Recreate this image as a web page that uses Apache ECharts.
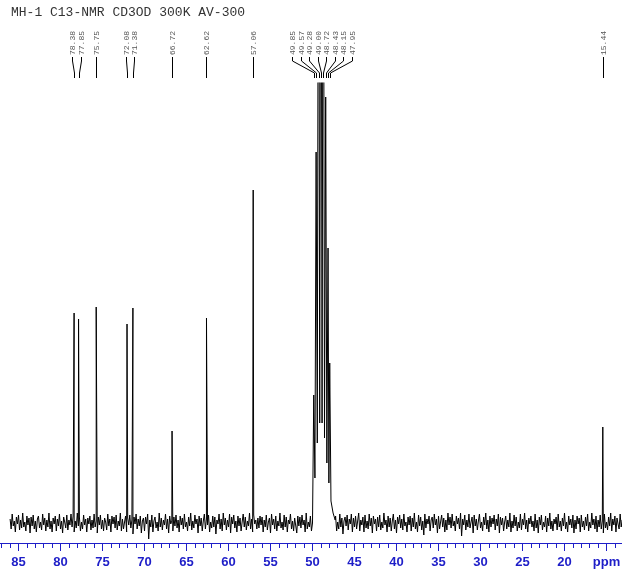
<!DOCTYPE html>
<html>
<head>
<meta charset="utf-8">
<script src="https://cdn.jsdelivr.net/npm/echarts@6.0.0/dist/echarts.min.js"></script>
<style>
html, body { margin: 0; padding: 0; background: #fff; }
#spectrum { width: 622px; height: 581px; }
</style>
</head>
<body>
<div id="spectrum"></div>
<script>
const titleText = 'MH-1 C13-NMR CD3OD 300K AV-300';

// picked peaks (ppm) and their heights above the baseline
const peakPpm = [78.38, 77.85, 75.75, 72.08, 71.38, 66.72, 62.62, 57.06,
  49.85, 49.57, 49.28, 49.00, 48.72, 48.43, 48.15, 47.95, 15.44];
const peakHeight = [210, 204, 216, 199, 215, 92, 205, 333,
  128, 371, 800, 900, 800, 426, 275, 160, 96];

// broad solvent envelope under the CD3OD multiplet
const humpPpm = [50.0, 49.71, 49.43, 49.14, 48.86, 48.57, 48.29, 48.05, 47.8, 47.55, 47.3];
const humpHeight = [0, 45, 80, 100, 100, 85, 60, 40, 22, 10, 3];

// baseline noise, one value every 0.125 ppm from 86 ppm down
const noiseStart = 86;
const noiseStep = 0.125;
const noise = [
  4, -6, 9, -3, 2, -9, 6, -1, 8, -7, 3, -5, 10, -4, 1, -8, 7, -2, 5, -10,
  6, -3, 8, -6, 2, -9, 4, 7, -5, 1, -7, 9, -2, 5, -8, 3, -4, 10, -6, 2,
  -9, 5, -1, 7, -8, 4, -3, 9, -6, 2, -10, 6, 1, -5, 8, -7, 3, -2, 9, -4,
  7, -9, 2, -5, 10, -3, 6, -8, 1, -6, 8, -2, 4, -9, 5, -1, 7, -7, 3, -5,
  9, -4, 2, -10, 6, -2, 8, -6, 3, -8, 5, 1, -7, 9, -3, 4, -9, 7, -1, 6,
  -5, 8, -7, 2, -3, 10, -8, 4, -6, 1, 7, -9, 5, -2, 8, -5, 3, -11, 6, -1,
  9, -6, 4, -3, 7, -10, 2, 5, -8, 6, -1, 9, -16, 3, -4, 8, -9, 2, 6, -5,
  1, -8, 10, -4, 5, -7, 3, -2, 9, -6, 4, -10, 7, -1, 2, -8, 6, -3, 8, -5,
  3, -9, 7, -2, 5, -6, 9, -4, 1, -8, 6, -3, 10, -7, 2, -5, 8, -1, 4, -10,
  7, -3, 5, -8, 2, 9, -6, 4, -2, 8, -9, 1, -5, 7, -4, 6, -11, 3, -1, 9,
  -6, 4, -8, 10, -2, 5, -7, 3, -4, 9, -10, 6, -1, 8, -5, 2, -9, 7, -3, 5,
  -8, 1, 9, -4, 6, -7, 2, -3, 10, -6, 4, -9, 8, -1, 3, -6, 5, -5, 7, -2,
  6, -9, 3, -4, 8, -7, 1, 5, -10, 9, -2, 4, -6, 7, -8, 2, -3, 10, -5, 1,
  -7, 8, -4, 6, -9, 3, -1, 9, -6, 2, -8, 5, 4, -10, 7, -3, 6, -5, 8, -2,
  3, -9, 10, -6, 1, -4, 7, -8, 5, -2, 9, -7, 2, -5, 8, -3, 4, -10, 6, -1,
  8, -5, 3, -9, 6, -2, 10, -7, 4, -3, 7, -8, 1, -6, 9, -4, 5, -11, 2, 6,
  -3, 8, -7, 4, -1, 9, -9, 5, -4, 7, -6, 2, 10, -8, 3, -2, 6, -9, 8, -5,
  2, -6, 9, -3, 5, -10, 7, -1, 4, -8, 6, -4, 8, -7, 1, -5, 10, -2, 3, -9,
  7, -4, 5, -8, 2, 9, -6, 3, -10, 6, -1, 8, -5, 4, -7, 9, -3, 1, -9, 6,
  -2, 7, -8, 5, -4, 10, -6, 1, -9, 8, -3, 6, -7, 2, -12, 9, -5, 4, -1, 7,
  -8, 3, 6, -5, 9, -2, 4, -10, 7, -6, 1, 8, -4, 5, -9, 3, -7, 10, -2, 6,
  -5, 9, -3, 2, -8, 7, -1, 5, -6, 10, -13, 4, -2, 8, -7, 3, -4, 9, -5, 1,
  6, -10, 8, -3, 4, -7, 2, 9, -5, 1, -8, 6, -2, 10, -6, 3, -9, 7, -4, 5,
  -1, 8, -7, 4, -3, 9, -10, 6, -2, 5, -8, 1, 7, -6, 3, -4, 10, -9, 2, -5,
  8, -3, 6, -8, 1, -5, 9, -7, 4, -2, 10, -6, 3, -9, 5, -1, 7, -4, 2, -8,
  9, -5, 3, -10, 6, -2, 8, -7, 1, -4, 7, -9, 5, -3, 10, -6, 2, -8, 4, -1,
  6, -7, 9, -4, 2, -8, 5, -3, 10, -6, 1, -9, 7, -2, 4, -5, 8, -10, 3, -6,
  7, -1, 5, -9, 8, -4, 2, -7, 6, -3, 9, -8, 1, -5, 10, -2, 4, -6, 7, -9,
  3, -4, 8, -6, 2, -10, 9, -5, 1, -7, 6, -3, 10, -8, 4, -2, 7, -9, 5, -1,
  -6, 9, -4, 3, -8, 7, -2, 5, -10, 6, -3, 8, -7, 1, -5, 9, -4, 2, -8, 6
];

const tickValues = [85, 80, 75, 70, 65, 60, 55, 50, 45, 40, 35, 30, 25, 20, 15];

const buildSpectrum = () => {
  const pts = [];
  const hi = humpPpm[0];
  const lo = humpPpm[humpPpm.length - 1];
  noise.forEach((v, i) => {
    const ppm = noiseStart - i * noiseStep;
    if (ppm <= hi && ppm >= lo) return;
    pts.push([ppm, v]);
  });
  humpPpm.forEach((p, i) => pts.push([p, humpHeight[i]]));
  peakPpm.forEach((p, i) => pts.push([p, peakHeight[i]]));
  pts.sort((a, b) => b[0] - a[0]);
  return pts;
};

// push crowded peak labels apart, keeping each cluster centred on its peaks
const spreadLabels = (xs, gap) => {
  const groups = xs.map(x => ({ n: 1, sum: x, start: x }));
  let merged = true;
  while (merged) {
    merged = false;
    for (let k = 0; k < groups.length - 1; k++) {
      const a = groups[k], b = groups[k + 1];
      if (a.start + a.n * gap > b.start) {
        const n = a.n + b.n, sum = a.sum + b.sum;
        groups.splice(k, 2, { n: n, sum: sum, start: sum / n - (n - 1) * gap / 2 });
        merged = true;
        break;
      }
    }
  }
  const out = [];
  groups.forEach(g => { for (let j = 0; j < g.n; j++) out.push(g.start + j * gap); });
  return out;
};

const chart = echarts.init(document.getElementById('spectrum'), null, { renderer: 'canvas' });

chart.setOption({
  animation: false,
  backgroundColor: '#fff',
  title: {
    text: titleText,
    left: 6,
    top: 1,
    textStyle: { fontFamily: 'Liberation Mono', fontSize: 13, fontWeight: 'normal', color: '#333' }
  },
  grid: { left: -23.5, right: -26.5, top: 83, bottom: 38, outerBoundsMode: 'none', containLabel: false },
  xAxis: {
    type: 'value',
    inverse: true,
    min: 10,
    max: 90,
    interval: 5,
    axisLine: { onZero: false, lineStyle: { color: '#1e1ec8', width: 1 } },
    axisTick: { length: 8, lineStyle: { color: '#1e1ec8' } },
    minorTick: { show: true, splitNumber: 5, length: 5, lineStyle: { color: '#1e1ec8' } },
    splitLine: { show: false },
    axisLabel: {
      margin: 13,
      color: '#1e1ec8',
      fontFamily: 'Liberation Sans',
      fontSize: 13,
      fontWeight: 'bold',
      formatter: v => (v === 15 ? 'ppm' : (tickValues.indexOf(v) >= 0 ? String(v) : ''))
    }
  },
  yAxis: { type: 'value', show: false, min: -20, max: 440 },
  series: [
    {
      type: 'line',
      data: buildSpectrum(),
      symbol: 'none',
      clip: true,
      lineStyle: { color: '#000', width: 1 },
      silent: true
    },
    {
      type: 'custom',
      silent: true,
      clip: false,
      data: peakPpm.map((p, i) => [p, peakHeight[i], i]),
      renderItem: (params, api) => {
        const i = api.value(2);
        const xs = spreadLabels(peakPpm.map(p => api.coord([p, 0])[0]), 8.5);
        const px = Math.round(api.coord([peakPpm[i], 0])[0]) + 0.5;
        const lx = Math.round(xs[i]) + 0.5;
        return {
          type: 'group',
          children: [
            {
              type: 'polyline',
              shape: { points: [[lx, 57], [lx, 61], [px, 73], [px, 78]] },
              style: { stroke: '#000', fill: null, lineWidth: 1 }
            },
            {
              type: 'text',
              x: lx,
              y: 55,
              rotation: Math.PI / 2,
              style: {
                text: peakPpm[i].toFixed(2),
                fontFamily: 'Liberation Mono',
                fontSize: 8,
                fill: '#555',
                align: 'left',
                verticalAlign: 'middle'
              }
            }
          ]
        };
      }
    }
  ]
});
</script>
</body>
</html>
